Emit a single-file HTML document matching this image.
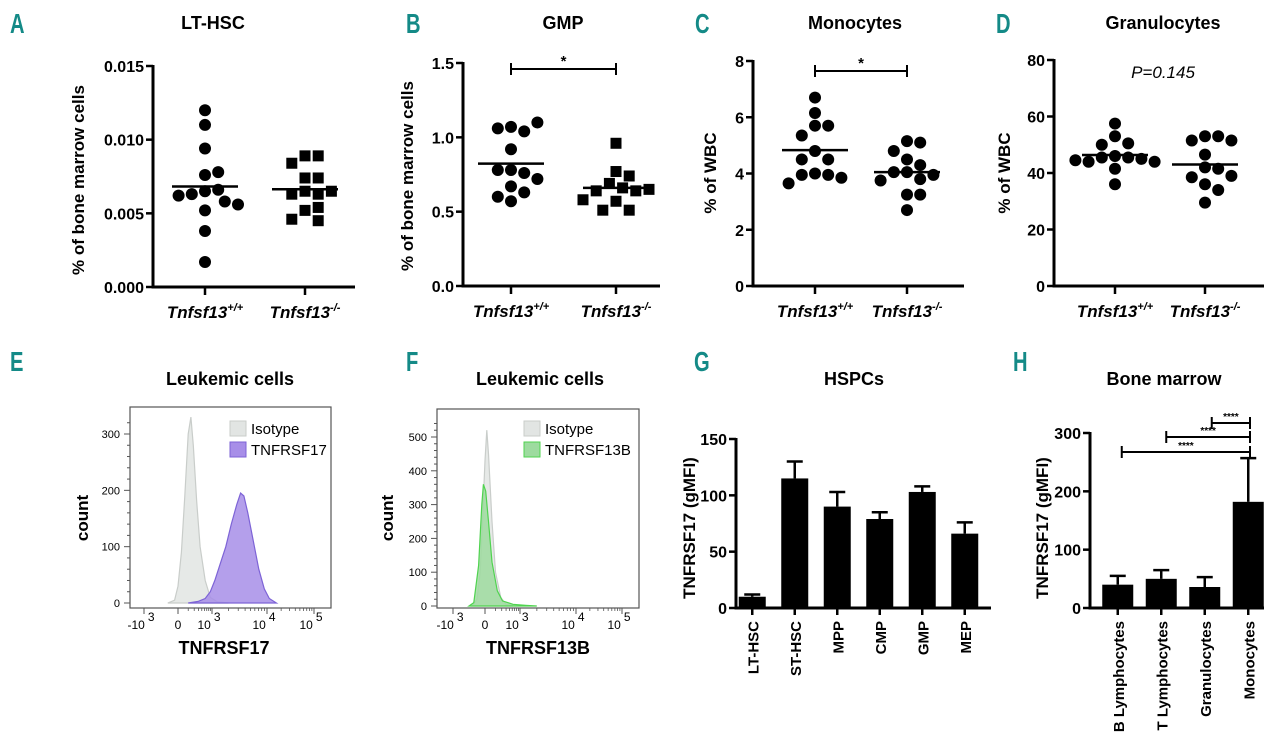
<!DOCTYPE html>
<html><head><meta charset="utf-8">
<style>
html,body{margin:0;padding:0;background:#fff;}
svg{display:block;}
text{font-family:"Liberation Sans",Arial,sans-serif;}
.lbl{font-family:"Liberation Sans Narrow","Liberation Sans",sans-serif;font-weight:bold;fill:#148a87;font-size:28px;}
.ttl{font-weight:bold;font-size:18px;}
.tick{font-family:"Liberation Sans Narrow","Liberation Sans",sans-serif;font-weight:bold;font-size:16px;}
.ytitle{font-weight:bold;font-size:17px;}
.xcat{font-weight:bold;font-style:italic;font-size:17px;}
.small{font-size:11px;}
</style></head>
<body>
<svg id="fig" width="1280" height="742" viewBox="0 0 1280 742" xmlns="http://www.w3.org/2000/svg"></svg>
<script>
// ---------- DATA ----------
const groups = ["Tnfsf13", "Tnfsf13"];
const groupSup = ["+/+", "-/-"];
const ltWT = [0.012,0.011,0.0094,0.0076,0.0078,0.0065,0.0066,0.0063,0.0058,0.0062,0.0052,0.0056,0.0038,0.0017];
const ltKO = [0.0089,0.0089,0.0084,0.0074,0.0074,0.0065,0.0063,0.0063,0.0065,0.0052,0.0054,0.0045,0.0046];
const ltTicks = ["0.000","0.005","0.010","0.015"];
const gmpWT = [1.07,1.04,1.06,1.10,0.92,0.78,0.76,0.78,0.72,0.67,0.63,0.60,0.57];
const gmpKO = [0.96,0.77,0.74,0.69,0.66,0.64,0.64,0.65,0.57,0.58,0.51,0.51];
const gmpTicks = ["0.0","0.5","1.0","1.5"];
const monoWT = [6.7,6.15,5.7,5.7,5.35,4.8,4.5,4.5,4.0,3.95,3.95,3.85,3.65];
const monoKO = [5.15,5.1,4.8,4.5,4.3,4.05,4.05,3.95,3.8,3.75,3.25,3.25,2.7];
const monoTicks = ["0","2","4","6","8"];
const granWT = [57.5,53,50.5,50,46,45.5,45.5,45,44,44,44.5,41.5,36];
const granKO = [53,53,51.5,51.5,46.5,42,41.5,38.5,39,36,34,29.5];
const granTicks = ["0","20","40","60","80"];
// histograms: [display-decade unit, count]
const isoE = [[-0.3,0],[-0.1,5],[0.0,30],[0.1,90],[0.2,190],[0.3,300],[0.38,330],[0.45,280],[0.55,180],[0.65,100],[0.8,40],[0.95,10],[1.1,2],[1.3,0]];
const tnfrsf17 = [[0.3,0],[0.6,3],[0.8,8],[0.95,20],[1.05,40],[1.15,70],[1.25,100],[1.35,140],[1.45,175],[1.52,195],[1.58,190],[1.65,160],[1.75,110],[1.85,60],[1.95,25],[2.05,8],[2.2,0]];
const isoF = [[-0.4,0],[-0.25,20],[-0.15,100],[-0.08,250],[0,430],[0.05,520],[0.1,450],[0.2,250],[0.3,100],[0.45,25],[0.6,5],[0.8,0]];
const tnfrsf13b = [[-0.5,0],[-0.35,10],[-0.2,120],[-0.1,300],[-0.05,360],[0.02,340],[0.1,250],[0.2,130],[0.35,45],[0.5,15],[0.8,5],[1.1,2],[1.3,0]];
const countTicksE = [0,100,200,300];
const countTicksF = [0,100,200,300,400,500];
const hspcCats = ["LT-HSC","ST-HSC","MPP","CMP","GMP","MEP"];
const hspcVals = [10,115,90,79,103,66];
const hspcErr = [12,130,103,85,108,76];
const hspcTicks = [0,50,100,150];
const bmCats = ["B Lymphocytes","T Lymphocytes","Granulocytes","Monocytes"];
const bmVals = [40,50,36,182];
const bmErr = [55,65,53,257];
const bmTicks = [0,100,200,300];

// ---------- helpers ----------
const NS="http://www.w3.org/2000/svg";
const svg=document.getElementById('fig');
function el(tag,attrs,parent,txt){const e=document.createElementNS(NS,tag);for(const k in attrs)e.setAttribute(k,attrs[k]);if(txt!==undefined)e.textContent=txt;(parent||svg).appendChild(e);return e;}
function lin(d0,d1,r0,r1){return v=>r0+(v-d0)/(d1-d0)*(r1-r0);}

function panelLetter(t,x,y){const e=el('text',{x:0,y:0,class:'lbl',transform:`translate(${x} ${y}) scale(0.72 1)`},svg,t);

}
function title(t,x,y,name){const e=el('text',{x:x,y:y,class:'ttl','text-anchor':'middle'},svg,t);

}
function yTitle(t,x,y,name,size){const e=el('text',{x:x,y:y,class:'ytitle','text-anchor':'middle',transform:`rotate(-90 ${x} ${y})`,'font-size':size||17},svg,t);

}

function beeswarm(vals,ys,cx,r){
  const placed=[];const xs=[];
  vals.forEach((v,i)=>{const y=ys(v);let x=cx;
    const cand=[0];for(let j=1;j<12;j++){cand.push(j*r*1.1,-j*r*1.1);}
    for(const o of cand){let ok=true;for(const p of placed){const dx=(cx+o)-p[0],dy=y-p[1];if(dx*dx+dy*dy<(2*r)*(2*r)*1.1){ok=false;break;}}
      if(ok){x=cx+o;break;}}
    placed.push([x,y]);xs.push([x,y]);});
  return xs;
}

function scatterPanel(o){
  const g=el('g',{});
  
  
  const ys=lin(0,o.max,o.y0,o.y1);
  el('line',{x1:o.ax,y1:o.y1-1,x2:o.ax,y2:o.y0+1.5,stroke:'#000','stroke-width':3},g);
  el('line',{x1:o.ax-1.5,y1:o.y0,x2:o.xend,y2:o.y0,stroke:'#000','stroke-width':3},g);
  o.ticks.forEach((t,i)=>{const v=o.max*i/(o.ticks.length-1);const y=ys(v);
    el('line',{x1:o.ax-7,y1:y,x2:o.ax,y2:y,stroke:'#000','stroke-width':2.5},g);
    const tt=el('text',{x:o.ax-9,y:y+6,class:'tick','text-anchor':'end'},g,t);
    
    
  });
  [o.gx0,o.gx1].forEach((gx,gi)=>{
    el('line',{x1:gx,y1:o.y0,x2:gx,y2:o.y0+8,stroke:'#000','stroke-width':2.5},g);
    const t=el('text',{x:gx,y:o.y0+31,class:'xcat','text-anchor':'middle'},g);
    
    
    el('tspan',{},t,groups[gi]);
    el('tspan',{dy:-7,'font-size':11},t,groupSup[gi]);
  });
  [[o.wt,o.gx0,'circle'],[o.ko,o.gx1,o.koShape]].forEach(([vals,gx,shape],gi)=>{
    const pts=beeswarm(vals,ys,gx,6);
    pts.forEach(([x,y])=>{
      let m;
      if(shape==='circle')m=el('circle',{cx:x,cy:y,r:6,fill:'#000'},g);
      else m=el('rect',{x:x-5.5,y:y-5.5,width:11,height:11,fill:'#000'},g);
      
      
    });
    const mean=vals.reduce((a,b)=>a+b,0)/vals.length;
    const ml=el('line',{x1:gx-33,x2:gx+33,y1:ys(mean),y2:ys(mean),stroke:'#000','stroke-width':2.5},g);
    
    
  });
  if(o.sig){const y=o.sigY;
    el('line',{x1:o.gx0,x2:o.gx1,y1:y,y2:y,stroke:'#000','stroke-width':2},g);
    el('line',{x1:o.gx0,x2:o.gx0,y1:y-6,y2:y+6,stroke:'#000','stroke-width':2},g);
    el('line',{x1:o.gx1,x2:o.gx1,y1:y-6,y2:y+6,stroke:'#000','stroke-width':2},g);
    const s=el('text',{x:(o.gx0+o.gx1)/2,y:y-3,'text-anchor':'middle','font-size':15,'font-weight':'bold'},g,'*');
    
    
  }
}

panelLetter('A',10,33);title('LT-HSC',213,29,'title-lt-hsc');
yTitle('% of bone marrow cells',84,180,'y-axis-title-a');
scatterPanel({name:'panel-a',ax:153,xend:355,y0:287,y1:66,max:0.015,ticks:ltTicks,gx0:205,gx1:305,wt:ltWT,ko:ltKO,koShape:'square'});

panelLetter('B',406,33);title('GMP',563,29,'title-gmp');
yTitle('% of bone marrow cells',413,176,'y-axis-title-b');
scatterPanel({name:'panel-b',ax:463,xend:660,y0:286,y1:63,max:1.5,ticks:gmpTicks,gx0:511,gx1:616,wt:gmpWT,ko:gmpKO,koShape:'square',sig:true,sigY:69});

panelLetter('C',695,33);title('Monocytes',855,29,'title-monocytes');
yTitle('% of WBC',716,173,'y-axis-title-c');
scatterPanel({name:'panel-c',ax:753,xend:964,y0:286,y1:61,max:8,ticks:monoTicks,gx0:815,gx1:907,wt:monoWT,ko:monoKO,koShape:'circle',sig:true,sigY:71});

panelLetter('D',996,33);title('Granulocytes',1163,29,'title-granulocytes');
yTitle('% of WBC',1010,173,'y-axis-title-d');
scatterPanel({name:'panel-d',ax:1054,xend:1264,y0:286,y1:60,max:80,ticks:granTicks,gx0:1115,gx1:1205,wt:granWT,ko:granKO,koShape:'circle'});
{const p=el('text',{x:1163,y:78,'text-anchor':'middle','font-size':17,'font-style':'italic'},svg,'P=0.145');

}

// ---------- histograms ----------
function histPanel(o){
  const g=el('g',{});
  
  
  const xu=u=>{const d=o.decX;const idx=Math.max(0,Math.min(3,Math.floor(u+1)));const a=idx-1;return d[idx]+(u-a)*(d[idx+1]-d[idx]);};
  const yc=lin(0,o.cmax,o.y0,o.y0-o.cmaxPx);
  el('rect',{x:o.bx0,y:o.by0,width:o.bx1-o.bx0,height:o.by1-o.by0,fill:'none',stroke:'#555','stroke-width':1.2},g);
  for(let c=0;c<=o.cmax*1.1;c+=o.minor){const y=yc(c);if(y<o.by0)break;
    el('line',{x1:o.bx0-(c%100===0?6:3),x2:o.bx0,y1:y,y2:y,stroke:'#555','stroke-width':1},g);}
  o.cticks.forEach(c=>{const t=el('text',{x:o.bx0-10,y:yc(c)+4,'text-anchor':'end','font-size':11},g,c);
    
    });
  for(let u=-1;u<=3;u++){el('line',{x1:xu(u),x2:xu(u),y1:o.by1,y2:o.by1+6,stroke:'#555','stroke-width':1},g);
    if(u>=0&&u<3){for(let k=2;k<10;k++){const xx=xu(u+Math.log10(k));el('line',{x1:xx,x2:xx,y1:o.by1,y2:o.by1+3,stroke:'#555','stroke-width':0.8},g);}}}
  const labs=[['-10','3'],['0',''],['10','3'],['10','4'],['10','5']];
  labs.forEach((l,i)=>{const t=el('text',{x:xu(i-1)+(i==1?0:-3),y:o.by1+21,'text-anchor':'middle','font-size':12},g);
    
    
    el('tspan',{},t,l[0]);if(l[1])el('tspan',{dy:-8,dx:3},t,l[1]);});
  function area(data,fill,stroke,name){
    let d=data.map((p,i)=>(i?'L':'M')+xu(p[0]).toFixed(1)+' '+yc(p[1]).toFixed(1)).join(' ');
    const a=el('path',{d:d+' Z',fill:fill,stroke:stroke,'stroke-width':1.2,'fill-opacity':0.85},g);
    
    
  }
  area(o.iso,'#e2e5e3','#c9cdca','isotype-histogram');
  area(o.pos,o.fill,o.stroke,o.posName);
  const lg=el('g',{},g);
  
  
  el('rect',{x:o.lx,y:o.ly,width:16,height:15,fill:'#e2e5e3',stroke:'#c9cdca'},lg);
  el('text',{x:o.lx+21,y:o.ly+13,'font-size':15},lg,'Isotype');
  el('rect',{x:o.lx,y:o.ly+21,width:16,height:15,fill:o.fill,stroke:o.stroke},lg);
  el('text',{x:o.lx+21,y:o.ly+34,'font-size':15},lg,o.posLabel);
}
panelLetter('E',10,371);title('Leukemic cells',230,385,'title-leukemic-cells-e');
yTitle('count',88,518,'y-axis-title-e',18);
{const t=el('text',{x:224,y:654,'text-anchor':'middle','font-size':18,'font-weight':'bold'},svg,'TNFRSF17');

}
histPanel({name:'panel-e',bx0:130,bx1:331,by0:407,by1:608,decX:[144,178,212,267,314],y0:603,cmax:300,cmaxPx:169,minor:20,cticks:countTicksE,iso:isoE,pos:tnfrsf17,fill:'#a78ee8',stroke:'#7d63d6',posName:'tnfrsf17-histogram',posLabel:'TNFRSF17',lx:230,ly:421});

panelLetter('F',406,371);title('Leukemic cells',540,385,'title-leukemic-cells-f');
yTitle('count',393,518,'y-axis-title-f',18);
{const t=el('text',{x:538,y:654,'text-anchor':'middle','font-size':18,'font-weight':'bold'},svg,'TNFRSF13B');

}
histPanel({name:'panel-f',bx0:437,bx1:639,by0:409,by1:608,decX:[453,485,520,576,622],y0:606,cmax:500,cmaxPx:169,minor:20,cticks:countTicksF,iso:isoF,pos:tnfrsf13b,fill:'#9ddb9f',stroke:'#4fd34f',posName:'tnfrsf13b-histogram',posLabel:'TNFRSF13B',lx:524,ly:421});

// ---------- bar charts ----------
function barPanel(o){
  const g=el('g',{});
  
  
  const ys=lin(0,o.max,o.y0,o.y1);
  el('line',{x1:o.ax,y1:o.y1-1,x2:o.ax,y2:o.y0+1.5,stroke:'#000','stroke-width':3},g);
  el('line',{x1:o.ax-1.5,y1:o.y0,x2:o.xend,y2:o.y0,stroke:'#000','stroke-width':3},g);
  o.ticks.forEach(v=>{const y=ys(v);
    el('line',{x1:o.ax-7,y1:y,x2:o.ax,y2:y,stroke:'#000','stroke-width':2.5},g);
    const t=el('text',{x:o.ax-9,y:y+6,class:'tick','text-anchor':'end'},g,v);
    
    });
  const step=(o.xend-o.ax)/o.cats.length;
  o.cats.forEach((c,i)=>{const cx=o.ax+step*(i+0.5)+o.shift;
    const eb=el('line',{x1:cx,x2:cx,y1:ys(o.vals[i]),y2:ys(o.err[i]),stroke:'#000','stroke-width':2.5},g);
    
    
    el('line',{x1:cx-8,x2:cx+8,y1:ys(o.err[i]),y2:ys(o.err[i]),stroke:'#000','stroke-width':2.5},g);
    const b=el('rect',{x:cx-o.bw/2,y:ys(o.vals[i]),width:o.bw,height:o.y0-ys(o.vals[i]),fill:'#000'},g);
    
    
    el('line',{x1:cx,x2:cx,y1:o.y0,y2:o.y0+7,stroke:'#000','stroke-width':2.5},g);
    const t=el('text',{x:cx+6,y:o.y0+13,'text-anchor':'end','font-size':15,'font-weight':'bold',transform:`rotate(-90 ${cx+6} ${o.y0+13})`},g,c);
    
    
  });
  return {ys,step};
}
panelLetter('G',694,371);title('HSPCs',854,385,'title-hspcs');
yTitle('TNFRSF17 (gMFI)',695,528,'y-axis-title-g',19);
barPanel({name:'panel-g',ax:736,xend:991,y0:608,y1:439,max:150,ticks:hspcTicks,cats:hspcCats,vals:hspcVals,err:hspcErr,bw:27,shift:-5});

panelLetter('H',1013,371);title('Bone marrow',1164,385,'title-bone-marrow');
yTitle('TNFRSF17 (gMFI)',1048,528,'y-axis-title-h',19);
const bp=barPanel({name:'panel-h',ax:1090,xend:1264,y0:608,y1:433,max:300,ticks:bmTicks,cats:bmCats,vals:bmVals,err:bmErr,bw:31,shift:6});
const sigPairs=[[2,3,423],[1,3,437],[0,3,452]];
sigPairs.forEach(([a,b,y])=>{
  const xa=1090+bp.step*(a+0.5)+6-(a==2?-7:a==1?-5:-4), xb=1250;
  const sg=el('g',{});
  
  
  el('line',{x1:xa,x2:xb,y1:y,y2:y,stroke:'#000','stroke-width':2},sg);
  el('line',{x1:xa,x2:xa,y1:y-6,y2:y+6,stroke:'#000','stroke-width':2},sg);
  el('line',{x1:xb,x2:xb,y1:y-6,y2:y+6,stroke:'#000','stroke-width':2},sg);
  el('text',{x:(xa+xb)/2,y:y-3,'text-anchor':'middle','font-size':10,'font-weight':'bold'},sg,'****');
});
</script>
</body></html>
